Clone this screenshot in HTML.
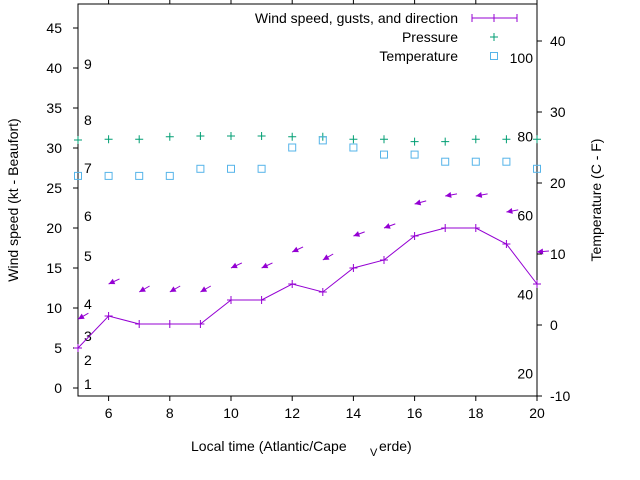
<!DOCTYPE html>
<html><head><meta charset="utf-8"><style>
body{margin:0;background:#fff}
svg{display:block;font-family:"Liberation Sans",sans-serif;font-size:14px}
</style></head><body>
<svg id="c" width="640" height="480"></svg>
<script>
const hours=[5,6,7,8,9,10,11,12,13,14,15,16,17,18,19,20];
const windSpeed=[5,9,8,8,8,11,11,13,12,15,16,19,20,20,18,13];
const gusts=[8.6,13,12,12,12,15,15,17,16,19,20,23,24,24,22,17];
const windDir=[60,65,60,60,60,65,65,65,60,70,70,75,80,80,80,85];
const pressure=[31,31.1,31.1,31.4,31.5,31.5,31.5,31.4,31.4,31.1,31.1,30.8,30.8,31.1,31.1,31.1];
const temperature=[21,21,21,21,22,22,22,25,26,25,24,24,23,23,23,22];
const leftTicks=[0,5,10,15,20,25,30,35,40,45];
const rightTicks=[-10,0,10,20,30,40];
const xTicks=[6,8,10,12,14,16,18,20];
const beaufort=[[1,1],[2,4],[3,7],[4,11],[5,17],[6,22],[7,28],[8,34],[9,41]];
const fahr=[20,40,60,80,100];
const L=78,R=537,T=4,B=396;
const X=v=>L+(v-5)*(R-L)/15;
const Y=v=>388-v*8;
const YR=v=>325-v*7.1;
const s=document.getElementById('c');
const NS='http://www.w3.org/2000/svg';
function mk(tag,a,txt){const e=document.createElementNS(NS,tag);for(const k in a)e.setAttribute(k,a[k]);if(txt!==undefined)e.textContent=txt;s.appendChild(e);return e;}
let e;
e=mk('rect',{x:L,y:T,width:R-L,height:B-T,fill:'none',stroke:'#000'});


leftTicks.forEach(v=>{
 e=mk('line',{x1:L-5,x2:L,y1:Y(v),y2:Y(v),stroke:'#000'});
 
 
 e=mk('text',{x:62,y:Y(v)+5,'text-anchor':'end'},v);
 
 
});
rightTicks.forEach(v=>{
 e=mk('line',{x1:R,x2:R+5,y1:YR(v),y2:YR(v),stroke:'#000'});
 
 
 e=mk('text',{x:550,y:YR(v)+5},v);
 
 
});
xTicks.forEach(v=>{
 e=mk('line',{x1:X(v),x2:X(v),y1:B,y2:B+5,stroke:'#000'});
 
 
 e=mk('line',{x1:X(v),x2:X(v),y1:T-4,y2:T,stroke:'#000'});
 
 
 e=mk('text',{x:X(v),y:418,'text-anchor':'middle'},v);
 
 
});
beaufort.forEach(([n,kt])=>{
 e=mk('text',{x:84,y:Y(kt)+9},n);
 
 
});
fahr.forEach(f=>{
 e=mk('text',{x:533,y:YR((f-32)*5/9)+6,'text-anchor':'end'},f);
 
 
});
// wind line
e=mk('polyline',{points:hours.map((h,i)=>X(h)+','+Y(windSpeed[i])).join(' '),fill:'none',stroke:'#9400d3','stroke-width':1});


hours.forEach((h,i)=>{
 e=mk('path',{d:`M${X(h)-4},${Y(windSpeed[i])}h8M${X(h)},${Y(windSpeed[i])-4}v8`,stroke:'#9400d3'});
 
 
 const a=windDir[i]*Math.PI/180,dx=Math.sin(a),dy=-Math.cos(a);
 const hx=X(h),hy=Y(gusts[i]),len=12;
 const tx=hx+dx*len,ty=hy+dy*len;
 const px=-dy,py=dx;
 e=mk('line',{x1:tx,y1:ty,x2:hx,y2:hy,stroke:'#9400d3'});
 
 
 e=mk('polygon',{points:`${hx},${hy} ${hx+dx*6+px*3},${hy+dy*6+py*3} ${hx+dx*6-px*3},${hy+dy*6-py*3}`,fill:'#9400d3'});
 
 
 e=mk('path',{d:`M${X(h)-4},${Y(pressure[i])}h8M${X(h)},${Y(pressure[i])-4}v8`,stroke:'#009e73'});
 
 
 e=mk('rect',{x:X(h)-3.5,y:YR(temperature[i])-3.5,width:7,height:7,fill:'none',stroke:'#56b4e9'});
 
 
});
// legend
e=mk('text',{x:458,y:23,'text-anchor':'end'},'Wind speed, gusts, and direction');


e=mk('path',{d:'M472,18h45M472,14v8M517,14v8M494,14v8',stroke:'#9400d3',fill:'none'});


e=mk('text',{x:458,y:42,'text-anchor':'end'},'Pressure');


e=mk('path',{d:'M490,37h8M494,33v8',stroke:'#009e73'});


e=mk('text',{x:458,y:61,'text-anchor':'end'},'Temperature');


e=mk('rect',{x:490.5,y:52.5,width:7,height:7,fill:'none',stroke:'#56b4e9'});


// titles
e=mk('text',{x:0,y:0,transform:'translate(18,200) rotate(-90)','text-anchor':'middle'},'Wind speed (kt - Beaufort)');


e=mk('text',{x:0,y:0,transform:'translate(601,200) rotate(-90)','text-anchor':'middle'},'Temperature (C - F)');


e=mk('text',{x:191,y:451},'Local time (Atlantic/Cape');


e=mk('text',{x:370,y:456,'font-size':'11'},'V');


e=mk('text',{x:379,y:451},'erde)');


</script>
</body></html>
